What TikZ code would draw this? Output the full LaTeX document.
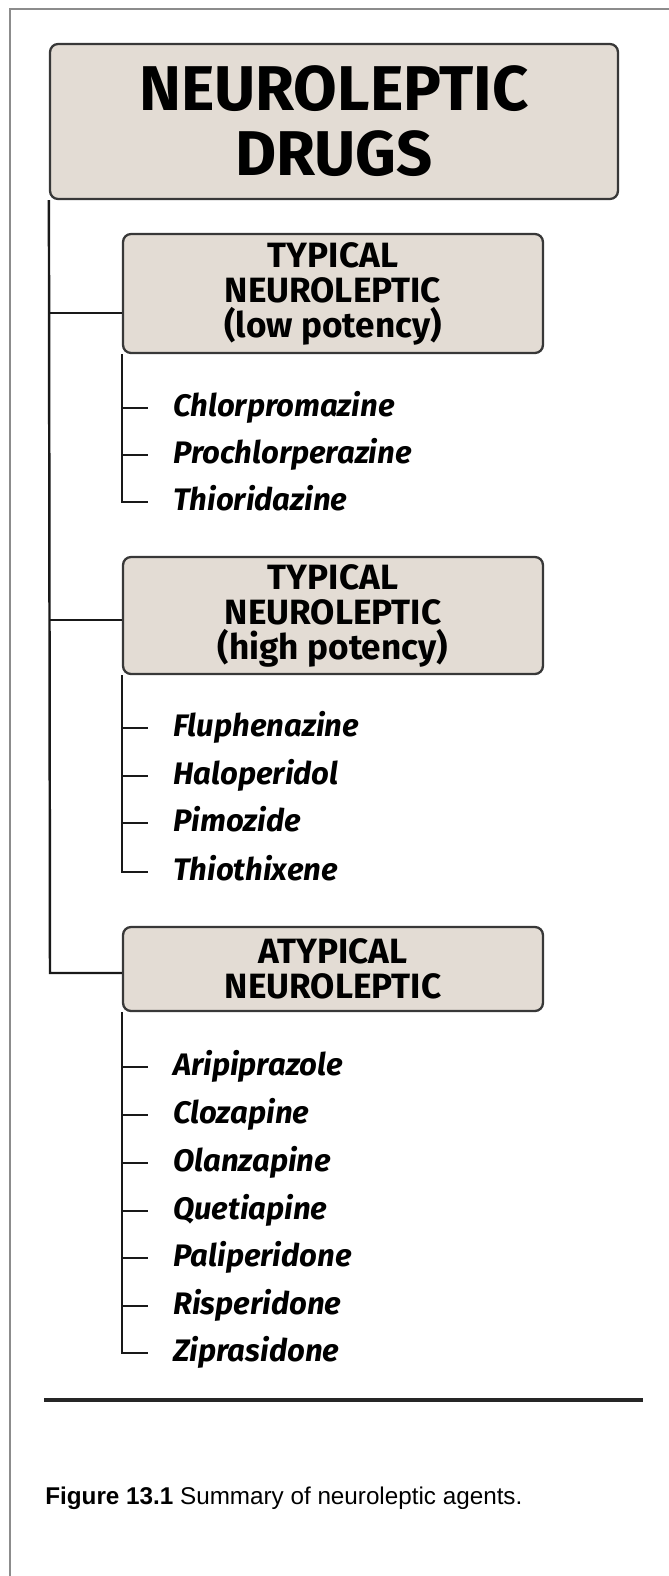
\documentclass[tikz,border=0pt]{standalone}
\usepackage{fontspec}
\setmainfont{Fira Sans}
\newfontfamily\capfont{Liberation Sans}
\usetikzlibrary{positioning,calc}
\definecolor{boxfill}{HTML}{E3DCD4}
\definecolor{boxline}{HTML}{383838}
\definecolor{framegray}{HTML}{8C8C8C}
\tikzset{
  headbox/.style={draw=boxline, line width=1.3pt, fill=boxfill, rounded corners=0.16cm, align=center, minimum width=11.36cm, minimum height=3.1cm, font=\fontsize{36}{37}\selectfont\bfseries},
  groupbox/.style={draw=boxline, line width=1.3pt, fill=boxfill, rounded corners=0.16cm, align=center, minimum width=8.4cm, font=\fontsize{20}{19.9}\selectfont\bfseries},
  drug/.style={anchor=west, inner sep=0pt, text height=12pt, text depth=2pt, font=\fontsize{17.7}{18}\selectfont\bfseries\itshape},
  tree/.style={line width=1.4pt, black!90},
}

\begin{document}
\begin{tikzpicture}[x=0.02cm, y=-0.02cm]
  \useasboundingbox (0,0) rectangle (669,1576);
  % page frame and rule
  \draw[framegray, line width=1.2pt] (10,1576) -- (10,9) -- (669,9);
  \draw[line width=2.4pt, black!85] (44,1400) -- (643,1400);

  \node[headbox] (main) at (334,121.5) {NEUROLEPTIC\\DRUGS};

  \node[groupbox, minimum height=2.38cm] (b1) at (333,293.5) {TYPICAL\\NEUROLEPTIC\\(low potency)};
  \node[groupbox, minimum height=2.34cm] (b2) at (333,615.5) {TYPICAL\\NEUROLEPTIC\\(high potency)};
  \node[groupbox, minimum height=1.68cm] (b3) at (333,969) {ATYPICAL\\NEUROLEPTIC};

  \node[drug] (c11) at (173,408) {Chlorpromazine};
  \node[drug] (c12) at (173,455) {Prochlorperazine};
  \node[drug] (c13) at (173,502) {Thioridazine};

  \node[drug] (c21) at (173,728) {Fluphenazine};
  \node[drug] (c22) at (173,776) {Haloperidol};
  \node[drug] (c23) at (173,823) {Pimozide};
  \node[drug] (c24) at (173,872) {Thiothixene};

  \node[drug] (c31) at (173,1067) {Aripiprazole};
  \node[drug] (c32) at (173,1115) {Clozapine};
  \node[drug] (c33) at (173,1163) {Olanzapine};
  \node[drug] (c34) at (173,1211) {Quetiapine};
  \node[drug] (c35) at (173,1258) {Paliperidone};
  \node[drug] (c36) at (173,1306) {Risperidone};
  \node[drug] (c37) at (173,1353) {Ziprasidone};

  % trunk
  \coordinate (j1) at (50,313);
  \coordinate (j2) at (50,620);
  \coordinate (j3) at (50,973);
  \draw[tree] (main.south west) -- (j3) -- (j3 -| b3.west);
  \draw[tree] (j1) -- (j1 -| b1.west);
  \draw[tree] (j2) -- (j2 -| b2.west);

  % drug lists
  \draw[tree] (b1.south west) -- (b1.south west |- c13.west) -- ([xshift=-0.5cm]c13.west);
  \foreach \c in {c11,c12}
    \draw[tree] (b1.south west |- \c.west) -- ([xshift=-0.5cm]\c.west);
  \draw[tree] (b2.south west) -- (b2.south west |- c24.west) -- ([xshift=-0.5cm]c24.west);
  \foreach \c in {c21,c22,c23}
    \draw[tree] (b2.south west |- \c.west) -- ([xshift=-0.5cm]\c.west);
  \draw[tree] (b3.south west) -- (b3.south west |- c37.west) -- ([xshift=-0.5cm]c37.west);
  \foreach \c in {c31,c32,c33,c34,c35,c36}
    \draw[tree] (b3.south west |- \c.west) -- ([xshift=-0.5cm]\c.west);

  \node[anchor=base west, inner sep=0pt, font=\capfont\fontsize{13.8}{15}\selectfont] (cap) at (45,1504) {\textbf{Figure 13.1} Summary of neuroleptic agents.};
\end{tikzpicture}
\end{document}
